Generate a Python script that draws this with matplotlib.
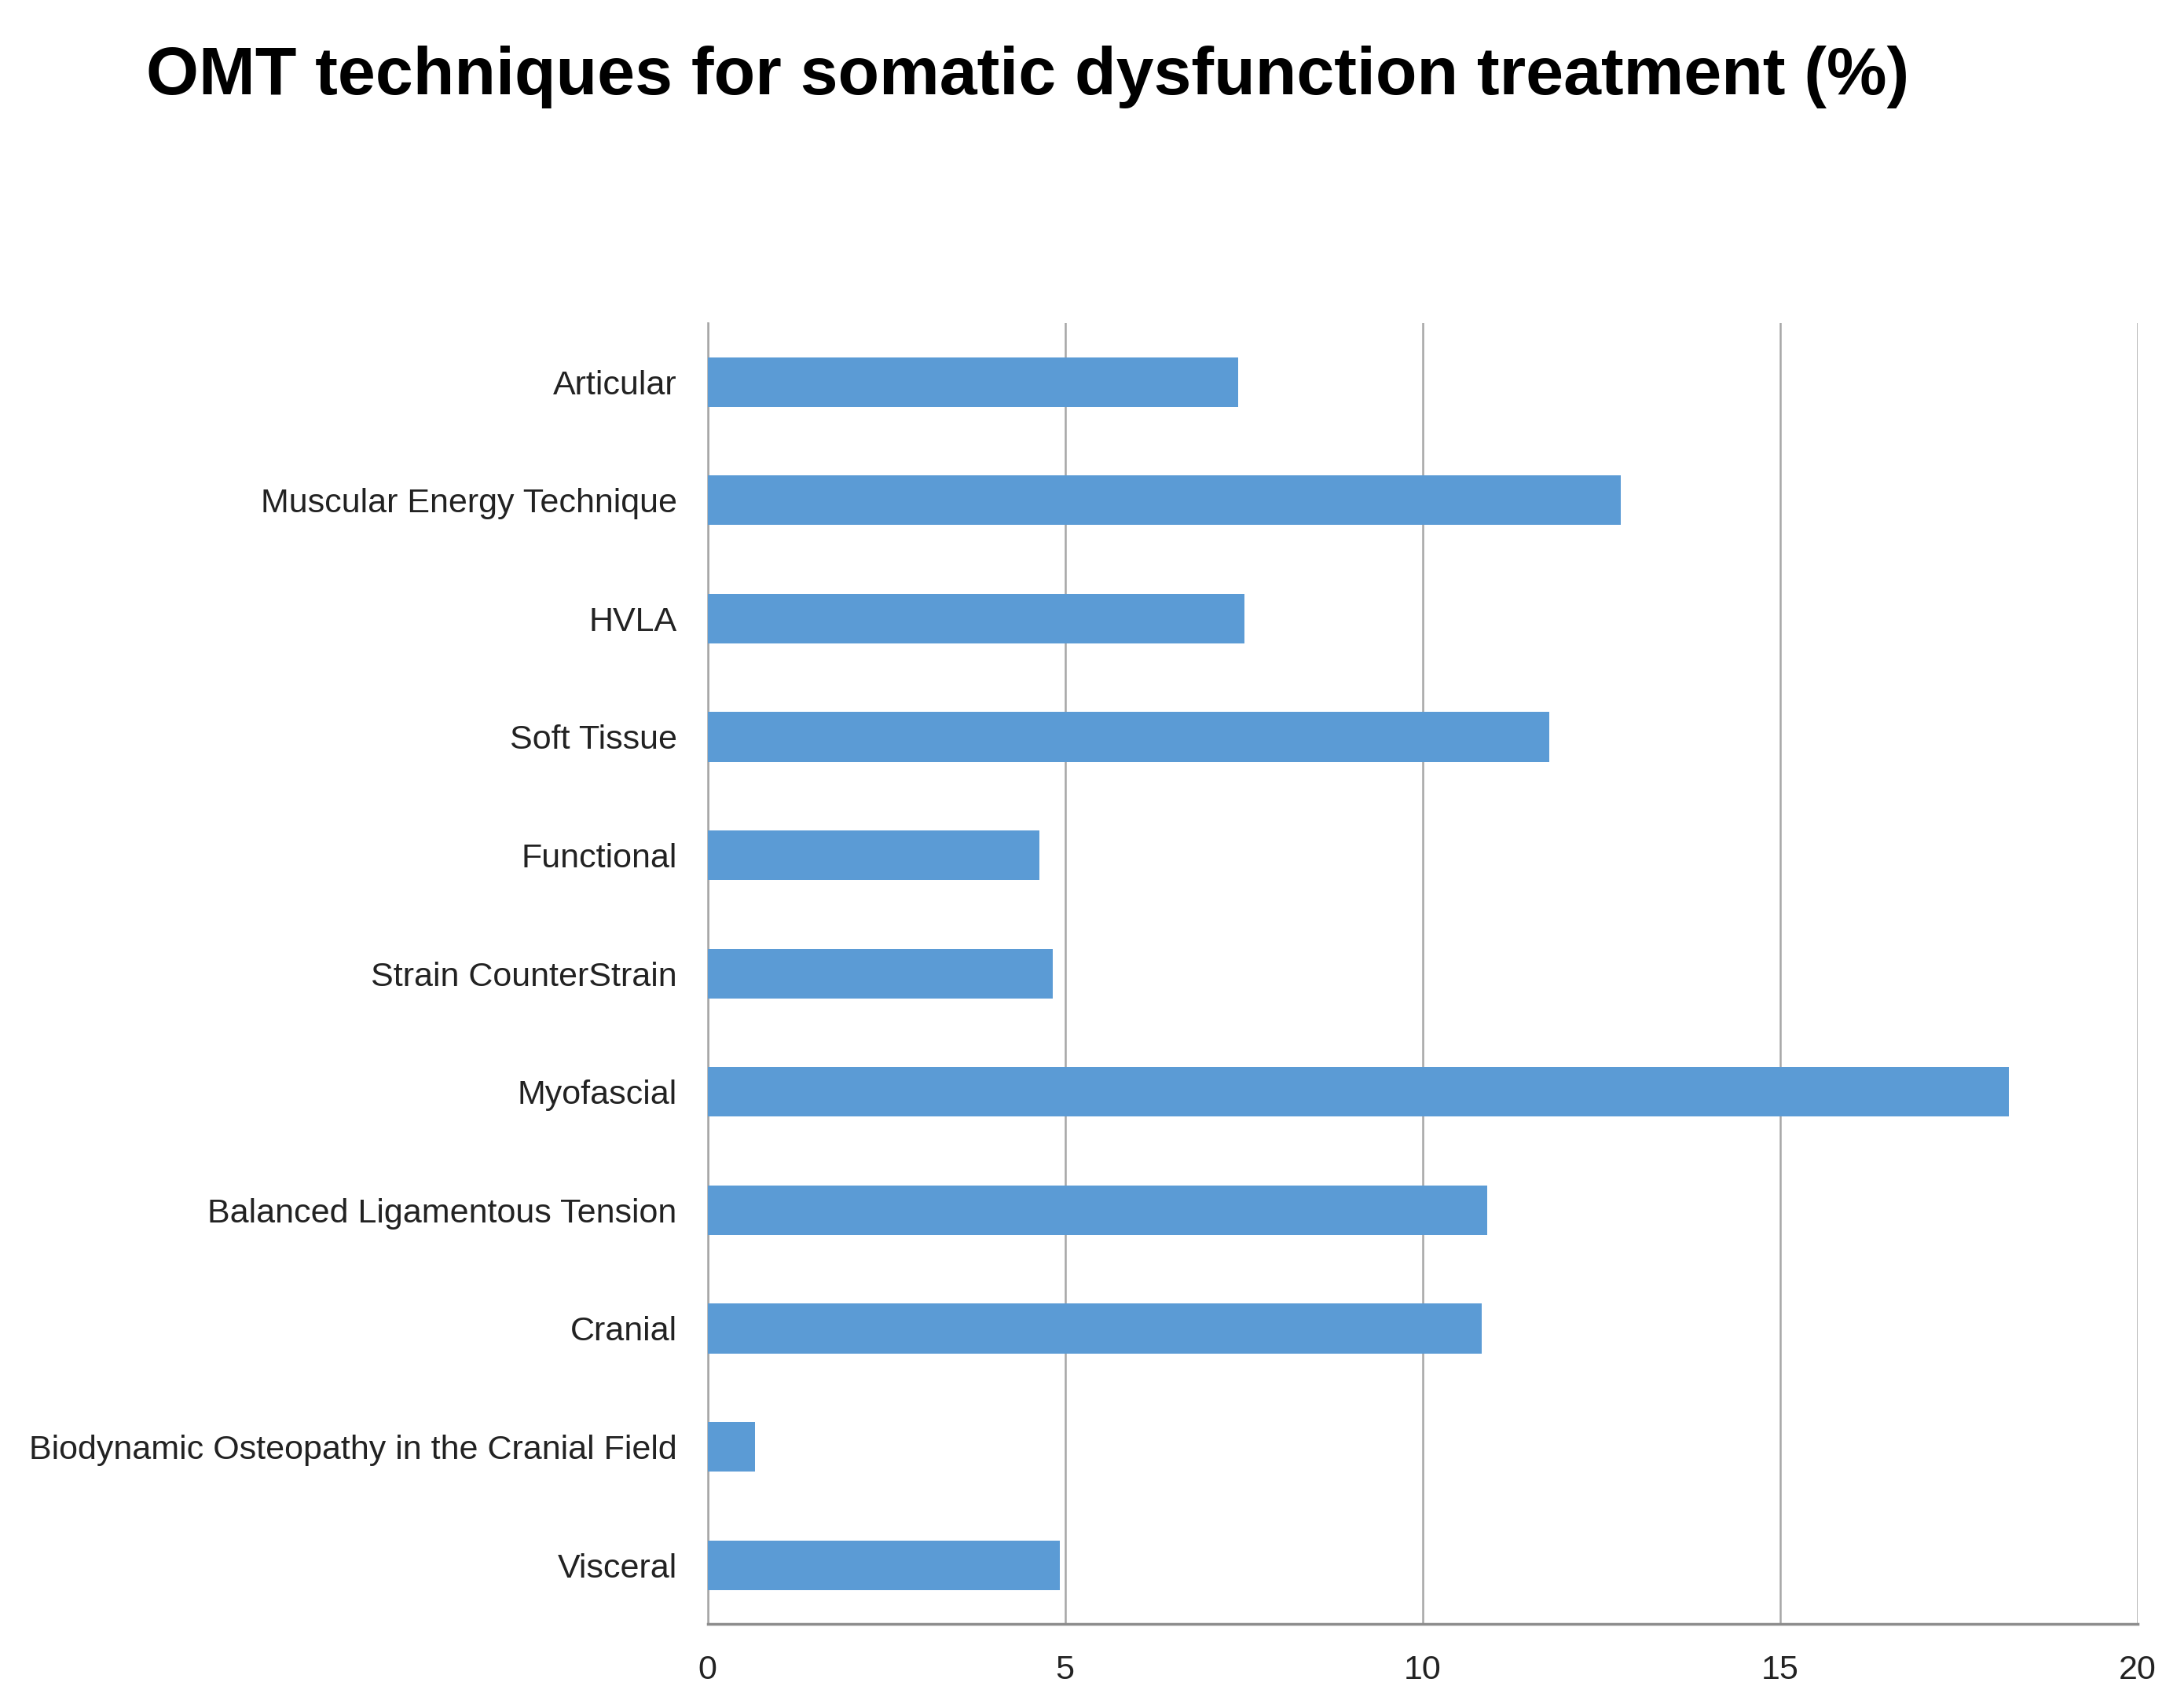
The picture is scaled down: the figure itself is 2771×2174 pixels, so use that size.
import matplotlib.pyplot as plt

techniques = [
    "Articular",
    "Muscular Energy Technique",
    "HVLA",
    "Soft Tissue",
    "Functional",
    "Strain CounterStrain",
    "Myofascial",
    "Balanced Ligamentous Tension",
    "Cranial",
    "Biodynamic Osteopathy in the Cranial Field",
    "Visceral",
]
percent = [7.42, 12.77, 7.51, 11.77, 4.64, 4.83, 18.2, 10.9, 10.83, 0.66, 4.93]
x_ticks = [0, 5, 10, 15, 20]

plt.rcParams["font.family"] = ["Liberation Sans", "DejaVu Sans"]

fig = plt.figure(figsize=(27.71, 21.74), dpi=100)
ax = fig.add_axes([0.325, 0.049, 0.657, 0.762])

pos = list(range(len(techniques)))
ax.barh(pos, percent, height=0.42, color="#5B9BD5", zorder=3)

ax.set_xlim(0, 20)
ax.set_ylim(len(techniques) - 0.5, -0.5)
ax.set_xticks(x_ticks)
ax.set_xticklabels([str(t) for t in x_ticks])
ax.set_yticks(pos)
ax.set_yticklabels(techniques)
ax.tick_params(axis="both", length=0, labelsize=31, colors="#222222")
ax.tick_params(axis="y", pad=28)
ax.tick_params(axis="x", pad=28)

ax.grid(axis="x", color="#A6A6A6", linewidth=1.8, zorder=0)
for side in ["top", "right"]:
    ax.spines[side].set_visible(False)
ax.spines["left"].set_color("#A6A6A6")
ax.spines["left"].set_linewidth(1.8)
ax.spines["bottom"].set_color("#8C8C8C")
ax.spines["bottom"].set_linewidth(2.5)

fig.text(0.067, 0.955, "OMT techniques for somatic dysfunction treatment (%)",
         fontsize=62, fontweight="bold", ha="left", va="center")

fig.savefig("out.png", dpi=100)
